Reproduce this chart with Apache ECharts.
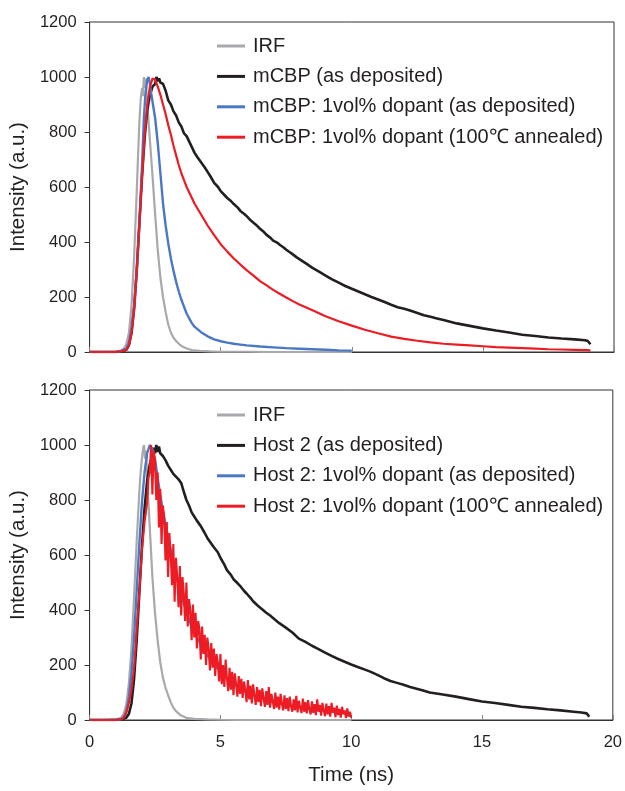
<!DOCTYPE html>
<html><head><meta charset="utf-8">
<script src="https://cdn.jsdelivr.net/npm/echarts@6/dist/echarts.min.js"></script>
<style>html,body{margin:0;padding:0;background:#fff}#c{width:625px;height:791px}</style>
</head><body><div id="c"></div>
<script>
// ---- tick labels / categories ----
const xTicks = [0, 5, 10, 15, 20];
const yTicks = [0, 200, 400, 600, 800, 1000, 1200];
const topNames = ['IRF', 'mCBP (as deposited)', 'mCBP: 1vol% dopant (as deposited)', 'mCBP: 1vol% dopant (100\u2103 annealed)'];
const botNames = ['IRF', 'Host 2 (as deposited)', 'Host 2: 1vol% dopant (as deposited)', 'Host 2: 1vol% dopant (100\u2103 annealed)'];

// ---- top panel series [time ns, intensity] ----
const irfTop = [[0,0],[0.5,0],[1.0,1],[1.2,5],[1.3,12],[1.4,28],[1.5,70],[1.6,170],[1.7,350],[1.8,590],[1.85,720],[1.9,840],[1.95,920],[2.0,960],[2.03,930],[2.07,1000],[2.1,960],[2.13,995],[2.18,930],[2.25,840],[2.3,770],[2.4,640],[2.5,500],[2.6,370],[2.7,270],[2.8,200],[2.9,145],[3.0,100],[3.1,70],[3.2,52],[3.3,40],[3.4,30],[3.5,22],[3.7,13],[3.9,7],[4.2,4],[4.6,2],[5,1],[6,1],[7,0],[8,0],[9,0],[10,0]];
const blackTop = [[0,0],[1.0,0],[1.2,2],[1.4,8],[1.5,25],[1.6,70],[1.7,160],[1.8,300],[1.9,470],[2.0,640],[2.1,780],[2.2,880],[2.3,935],[2.4,965],[2.5,975],[2.55,1000],[2.6,985],[2.65,995],[2.7,980],[2.8,975],[2.9,950],[3.0,915],[3.1,900],[3.2,875],[3.3,860],[3.4,835],[3.5,820],[3.6,795],[3.7,785],[3.8,765],[3.9,745],[4.0,725],[4.1,710],[4.25,690],[4.4,670],[4.5,655],[4.6,640],[4.75,615],[4.9,600],[5.0,585],[5.15,570],[5.25,560],[5.4,548],[5.5,538],[5.65,525],[5.75,513],[5.9,502],[6.0,493],[6.15,478],[6.25,470],[6.4,458],[6.5,448],[6.65,436],[6.75,426],[6.9,415],[7.0,405],[7.15,398],[7.25,390],[7.4,380],[7.5,372],[7.65,362],[7.75,355],[7.9,344],[8.0,338],[8.25,322],[8.5,306],[8.75,292],[9.0,278],[9.25,264],[9.5,252],[9.75,240],[10.0,230],[10.25,220],[10.5,210],[10.75,200],[11.0,191],[11.25,182],[11.5,172],[11.75,163],[12.0,157],[12.25,150],[12.5,142],[12.75,134],[13.0,128],[13.25,122],[13.5,116],[13.75,110],[14.0,104],[14.5,95],[15.0,86],[15.5,78],[16.0,71],[16.5,63],[17.0,58],[17.5,53],[18.0,49],[18.5,46],[18.9,43],[19.0,40],[19.1,28]];
const blueTop = [[0,0],[1.0,0],[1.2,3],[1.4,12],[1.5,35],[1.6,90],[1.7,170],[1.8,300],[1.9,470],[2.0,680],[2.07,850],[2.13,940],[2.2,990],[2.25,1000],[2.3,975],[2.35,940],[2.4,910],[2.5,850],[2.6,760],[2.7,650],[2.8,540],[2.9,460],[3.0,395],[3.1,340],[3.2,295],[3.3,255],[3.4,220],[3.5,190],[3.6,165],[3.7,140],[3.8,122],[3.9,105],[4.0,92],[4.25,72],[4.5,57],[4.75,46],[5.0,39],[5.25,34],[5.5,30],[5.75,27],[6.0,24],[6.5,20],[7.0,17],[7.5,14],[8.0,12],[8.5,10],[9.0,8],[9.5,6],[10.0,5]];
const redTop = [[0,0],[1.0,0],[1.2,2],[1.4,8],[1.5,25],[1.6,70],[1.7,160],[1.8,300],[1.9,470],[2.0,640],[2.1,790],[2.2,900],[2.3,965],[2.4,995],[2.45,1000],[2.5,990],[2.6,965],[2.7,935],[2.8,900],[2.9,865],[3.0,825],[3.1,790],[3.2,750],[3.3,715],[3.4,680],[3.5,650],[3.6,625],[3.7,600],[3.8,580],[3.9,560],[4.0,540],[4.25,500],[4.5,460],[4.75,425],[5.0,392],[5.25,365],[5.5,340],[5.75,318],[6.0,297],[6.25,278],[6.5,258],[6.75,242],[7.0,226],[7.25,212],[7.5,198],[7.75,185],[8.0,173],[8.5,152],[9.0,130],[9.5,112],[10.0,96],[10.5,81],[11.0,68],[11.5,56],[12.0,48],[12.5,41],[13.0,35],[13.5,30],[14.0,27],[14.5,24],[15.0,21],[15.5,18],[16.0,16],[16.5,14],[17.0,12],[17.5,10],[18.0,9],[18.5,8],[19.0,7],[19.1,5]];

// ---- bottom panel series ----
const irfBottom = [[0,0],[0.5,0],[1.0,2],[1.2,8],[1.3,22],[1.4,55],[1.5,130],[1.6,260],[1.7,450],[1.8,650],[1.9,830],[1.95,900],[2.0,950],[2.05,990],[2.08,1000],[2.12,950],[2.16,980],[2.2,880],[2.3,700],[2.4,520],[2.5,390],[2.6,290],[2.7,210],[2.8,155],[2.9,118],[3.0,90],[3.1,65],[3.2,45],[3.3,32],[3.5,16],[3.7,8],[4.0,4],[4.5,2],[5,1],[6,0],[10,0]];
const blackBottom = [[0,0],[1.0,0],[1.2,2],[1.4,8],[1.5,22],[1.6,60],[1.7,150],[1.8,290],[1.9,460],[2.0,630],[2.1,770],[2.2,870],[2.3,930],[2.4,960],[2.45,990],[2.5,970],[2.55,1000],[2.6,975],[2.65,995],[2.7,970],[2.8,960],[2.9,945],[3.0,925],[3.1,910],[3.2,895],[3.3,885],[3.4,875],[3.5,862],[3.6,830],[3.7,800],[3.8,780],[3.9,755],[4.0,740],[4.1,725],[4.25,705],[4.4,680],[4.5,662],[4.6,648],[4.75,628],[4.9,610],[5.0,590],[5.15,565],[5.25,545],[5.4,528],[5.5,512],[5.65,498],[5.75,488],[5.9,470],[6.0,460],[6.15,444],[6.25,432],[6.4,418],[6.5,410],[6.65,398],[6.75,390],[6.9,380],[7.0,372],[7.25,352],[7.5,336],[7.75,318],[8.0,296],[8.25,284],[8.5,270],[8.75,258],[9.0,245],[9.25,233],[9.5,222],[9.75,212],[10.0,202],[10.25,193],[10.5,184],[10.75,175],[11.0,164],[11.25,152],[11.5,142],[11.75,135],[12.0,128],[12.25,120],[12.5,114],[12.75,107],[13.0,100],[13.5,93],[14.0,85],[14.5,76],[15.0,67],[15.5,62],[16.0,55],[16.5,48],[17.0,44],[17.5,39],[18.0,35],[18.5,30],[18.8,27],[19.0,24],[19.1,12]];
const blueBottom = [[0,0],[1.0,0],[1.2,3],[1.3,10],[1.4,30],[1.5,80],[1.6,170],[1.7,300],[1.8,470],[1.9,640],[2.0,790],[2.1,900],[2.2,970],[2.3,1000],[2.4,985],[2.5,950],[2.6,880],[2.7,820],[2.8,760],[2.9,710],[3.0,665],[3.1,620],[3.2,575],[3.3,535],[3.4,495],[3.5,460],[3.6,425],[3.7,395],[3.8,365],[3.9,340],[4.0,320],[4.25,275],[4.5,235],[4.75,205],[5.0,175],[5.25,152],[5.5,132],[5.75,115],[6.0,100],[6.5,82],[7.0,66],[7.5,55],[8.0,46],[8.5,39],[9.0,33],[9.5,27],[10.0,20]];
const redBottomRise = [[0,0],[1.0,0],[1.2,2],[1.3,8],[1.4,25],[1.5,60],[1.6,110],[1.7,190],[1.75,255],[1.8,330],[1.88,436],[1.95,540],[2.0,618],[2.1,720],[2.2,790],[2.25,880]];
// noisy decay sampled every 0.05 ns from 2.30 ns to 10.00 ns
const redBottomStart = 2.3;
const redBottomStep = 0.05;
const redBottomNoisy = [
900,1000,820,980,940,800,900,700,840,640,780,740,580,720,
520,680,600,490,640,430,590,520,410,560,380,520,460,360,500,340,440,400,290,420,
300,390,260,360,330,220,340,240,310,200,300,260,180,280,190,260,160,240,210,140,
240,130,200,120,220,150,105,190,110,175,90,170,130,85,160,95,150,80,140,110,
65,145,75,125,60,130,90,55,120,65,110,50,115,80,48,105,55,120,45,95,
70,40,100,45,85,38,95,60,35,90,40,80,32,85,50,30,75,35,88,28,
70,45,25,78,30,65,24,72,40,20,68,26,58,18,75,30,55,16,62,35,
14,60,20,50,12,62,28,45,10,52,18,40,9,48,22,35,7,42,12,30,
8];

const redBottom = redBottomRise.concat(redBottomNoisy.map((v, i) => [+(redBottomStart + i * redBottomStep).toFixed(2), v]));

const COL = { irf: '#a7a9ac', black: '#231f20', blue: '#4a78c4', red: '#ed1c24' };
const FONT = 'Liberation Sans, Arial, sans-serif';
const TXT = '#231f20';

const chart = echarts.init(document.getElementById('c'), null, { renderer: 'canvas' });

function xAx(gi, showLabels) {
  return {
    type: 'value', gridIndex: gi, min: xTicks[0], max: xTicks[xTicks.length - 1], interval: 5,
    axisLine: { show: true, lineStyle: { color: '#333', width: 1 } },
    axisTick: { show: true, inside: true, length: 5, lineStyle: { color: '#888' } },
    axisLabel: { show: showLabels, fontSize: 16.5, color: TXT, fontFamily: FONT, margin: 14, formatter: v => String(v) },
    splitLine: { show: false },
    name: showLabels ? 'Time (ns)' : '', nameLocation: 'middle', nameGap: 45,
    nameTextStyle: { fontSize: 20.5, color: TXT, fontFamily: FONT }
  };
}
function yAx(gi) {
  return {
    type: 'value', gridIndex: gi, min: yTicks[0], max: yTicks[yTicks.length - 1], interval: 200,
    axisLine: { show: true, lineStyle: { color: '#333', width: 1 } },
    axisTick: { show: true, inside: false, length: 5, lineStyle: { color: '#333' } },
    axisLabel: { fontSize: 16.5, color: TXT, fontFamily: FONT, margin: 13, formatter: v => String(v) },
    splitLine: { show: false },
    name: 'Intensity (a.u.)', nameLocation: 'middle', nameRotate: 90, nameGap: 54,
    nameTextStyle: { fontSize: 20.5, color: TXT, fontFamily: FONT }
  };
}
function ser(name, data, color, gi, width) {
  return { type: 'line', name: name, data: data, xAxisIndex: gi, yAxisIndex: gi, showSymbol: false, symbol: 'none',
    lineStyle: { color: color, width: width }, itemStyle: { color: color }, z: 2 };
}
function leg(names, top) {
  return { data: names, orient: 'vertical', left: 217, top: top, itemWidth: 28, itemHeight: 3, itemGap: 10.4, icon: 'rect', padding: 0,
    textStyle: { fontSize: 20, color: TXT, fontFamily: FONT, padding: [0, 0, 0, 3] }, selectedMode: false };
}

chart.setOption({
  animation: false,
  backgroundColor: '#fff',
  grid: [
    { left: 87, top: 22, width: 527, height: 330, show: true, borderColor: '#333', borderWidth: 1, backgroundColor: 'transparent' },
    { left: 87, top: 390, width: 527, height: 330, show: true, borderColor: '#333', borderWidth: 1, backgroundColor: 'transparent' }
  ],
  xAxis: [xAx(0, false), xAx(1, true)],
  yAxis: [yAx(0), yAx(1)],
  legend: [leg(topNames, 36), leg(botNames, 405)],
  series: [
    ser(topNames[0], irfTop, COL.irf, 0, 2.2),
    ser(topNames[1], blackTop, COL.black, 0, 2.6),
    ser(topNames[2], blueTop, COL.blue, 0, 2.4),
    ser(topNames[3], redTop, COL.red, 0, 2.2),
    ser(botNames[0], irfBottom, COL.irf, 1, 2.2),
    ser(botNames[1], blackBottom, COL.black, 1, 2.6),
    ser(botNames[2], blueBottom, COL.blue, 1, 2.4),
    ser(botNames[3], redBottom, COL.red, 1, 2.1)
  ]
});
</script></body></html>
